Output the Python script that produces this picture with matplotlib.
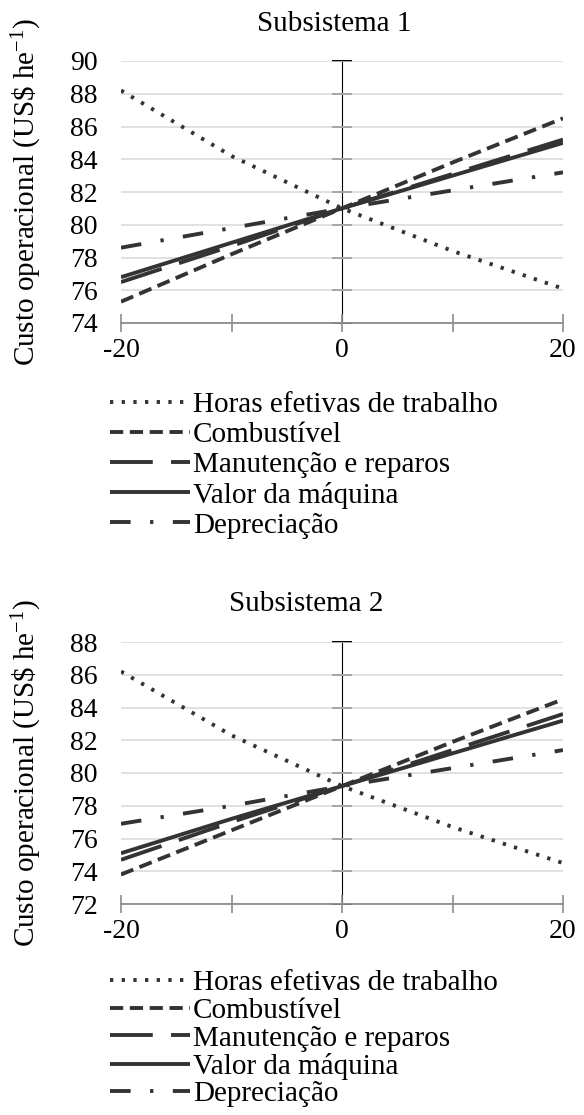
import matplotlib
matplotlib.use("Agg")
import matplotlib.pyplot as plt

plt.rcParams['font.family'] = ['Liberation Serif', 'DejaVu Serif']
plt.rcParams['mathtext.fontset'] = 'custom'
plt.rcParams['mathtext.rm'] = 'Liberation Serif'
plt.rcParams['mathtext.it'] = 'Liberation Serif:italic'

# ---- data ----
x_vals = [-20, -10, 0, 10, 20]
series_names = ["Horas efetivas de trabalho", "Combustível", "Manutenção e reparos",
                "Valor da máquina", "Depreciação"]

horas1 = [88.2, 84.2, 81.0, 78.4, 76.1]
comb1 = [75.3, 78.2, 81.0, 83.8, 86.5]
manut1 = [76.5, 78.7, 81.0, 83.1, 85.2]
valor1 = [76.8, 78.9, 81.0, 83.0, 85.0]
dep1 = [78.6, 79.8, 81.0, 82.1, 83.2]

horas2 = [86.2, 82.3, 79.2, 76.7, 74.5]
comb2 = [73.8, 76.5, 79.2, 81.9, 84.5]
manut2 = [74.7, 77.0, 79.2, 81.4, 83.6]
valor2 = [75.1, 77.2, 79.2, 81.2, 83.2]
dep2 = [76.9, 78.0, 79.2, 80.3, 81.4]

titles = ["Subsistema 1", "Subsistema 2"]
x_ticks = [-20, -10, 0, 10, 20]
x_ticklabels = ["-20", "", "0", "", "20"]
y_ticks1 = [74, 76, 78, 80, 82, 84, 86, 88, 90]
y_ticks2 = [72, 74, 76, 78, 80, 82, 84, 86, 88]
ylabel = r"Custo operacional (US\$ he$^{\mathrm{-1}}$)"

# ---- styles ----
line_color = '#333333'
styles = [(0, (0.85, 2.15)), (0, (3.4, 1.7)), (0, (11, 4.7)), '-', (0, (5.3, 5.0, 0.85, 5.0))]
lw = 2.8

W, H = 584, 1115
fig = plt.figure(figsize=(W / 100, H / 100), dpi=100)

def px_rect(left, top, right, bottom):
    return [left / W, 1 - bottom / H, (right - left) / W, (bottom - top) / H]

axes_specs = [
    (px_rect(121, 61, 563, 323), [horas1, comb1, manut1, valor1, dep1], y_ticks1,
     (334, 24), 0.6485, 0.12),
    (px_rect(121, 642, 563, 904), [horas2, comb2, manut2, valor2, dep2], y_ticks2,
     (306, 604), 0.1300, 0.04),
]

for idx, (rect, data, yt, tpos, leg_top, lsp) in enumerate(axes_specs):
    ax = fig.add_axes(rect)
    handles = []
    for vals, st, name in zip(data, styles, series_names):
        h, = ax.plot(x_vals, vals, color=line_color, lw=lw, linestyle=st,
                     dash_capstyle='butt', solid_capstyle='butt', label=name, zorder=3)
        handles.append(h)
    ax.set_xlim(-20, 20)
    ax.set_ylim(yt[0], yt[-1])
    ax.set_yticks(yt)
    ax.set_yticklabels([str(v) for v in yt])
    ax.set_xticks(x_ticks)
    ax.set_xticklabels(x_ticklabels)
    for s in ['left', 'right', 'top']:
        ax.spines[s].set_visible(False)
    ax.spines['bottom'].set_color('#8c8c8c')
    ax.spines['bottom'].set_linewidth(1.3)
    ax.spines['bottom'].set_zorder(4)
    ax.tick_params(axis='y', length=0, pad=17, labelsize=20)
    ax.tick_params(axis='x', direction='inout', length=13, width=1.2, color='#8c8c8c',
                   pad=4, labelsize=20)
    ax.grid(axis='y', color='#d9d9d9', lw=1.1, zorder=0)
    ax.set_axisbelow(True)

    sec = ax.secondary_yaxis(0.5)
    sec.set_yticks(yt)
    sec.tick_params(axis='y', direction='inout', length=15, width=1.4, color='black',
                    labelleft=False, labelright=False)
    sec.spines['left'].set_linewidth(1.4)
    sec.spines['left'].set_color('black')

    fig.text(tpos[0] / W, 1 - tpos[1] / H, titles[idx], ha='center', va='center',
             fontsize=21)
    yc = rect[1] + rect[3] / 2
    fig.text(27 / W, yc, ylabel, rotation=90, ha='center', va='center', fontsize=21)

    fig.legend(handles=handles, loc='upper left', bbox_to_anchor=(110 / W, leg_top),
               frameon=False, fontsize=21, handlelength=2.75, handletextpad=0.1,
               labelspacing=lsp, borderpad=0, borderaxespad=0)

fig.savefig("out.png", dpi=100)
